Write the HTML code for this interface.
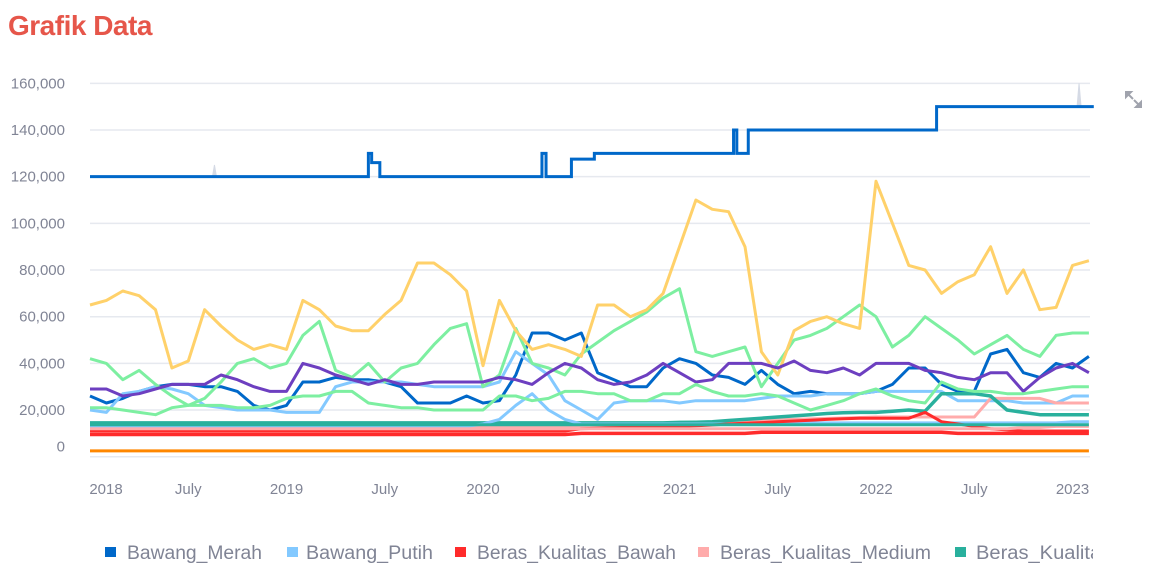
<!DOCTYPE html>
<html><head><meta charset="utf-8"><style>
body{margin:0;background:#fff;width:1153px;height:585px;overflow:hidden;font-family:"Liberation Sans",sans-serif}
#title{position:absolute;left:8px;top:10px;font-size:28px;font-weight:bold;color:#e6564a;letter-spacing:-0.5px}
</style></head><body>
<div id="title">Grafik Data</div>
<svg id="chart" width="1153" height="585" style="position:absolute;left:0;top:0"></svg>
<script>
const yTicks=[0,20000,40000,60000,80000,100000,120000,140000,160000];
const xTickMonths=[0,6,12,18,24,30,36,42,48,54,60];
const xTickLabels=["2018","July","2019","July","2020","July","2021","July","2022","July","2023"];
const seriesNames=["Bawang_Merah","Bawang_Putih","Beras_Kualitas_Bawah","Beras_Kualitas_Medium","Beras_Kualitas_Super"];
const bawangMerah=[26,23,25,28,30,31,31,30,30,28,22,20,22,32,32,34,33,33,32,30,23,23,23,26,23,24,35,53,53,50,53,36,33,30,30,38,42,40,35,34,31,37,31,27,28,27,27,27,28,31,38,38,31,28,28,44,46,36,34,40,38,43];
const bawangPutih=[20,19,27,28,30,29,27,22,21,20,20,20,19,19,19,30,32,32,32,32,31,30,30,30,30,32,45,40,35,24,20,16,23,24,24,24,23,24,24,24,24,25,26,26,26,27,27,27,28,28,28,28,28,24,24,24,24,23,23,23,26,26];
const berasBawah=[9.5,9.5,9.5,9.5,9.5,9.5,9.5,9.5,9.5,9.5,9.5,9.5,9.5,9.5,9.5,9.5,9.5,9.5,9.5,9.5,9.5,9.5,9.5,9.5,9.5,9.5,9.5,9.5,9.5,9.5,10,10,10,10,10,10,10,10,10,10,10,10.5,10.5,10.5,10.5,10.5,10.5,10.5,10.5,10.5,10.5,10.5,10.5,10,10,10,10,10,10,10,10,10];
const berasMedium=[13,13,13,13,13,13,13,13,13,13,13,13,13,13,13,13,13,13,13,13,13,13,13,13,13,13,13,13,13,13,13,13.2,13.4,13.6,13.8,14,14,14.3,14.6,15,15.3,15.6,16,16,16.2,16.4,16.6,16.8,17,17,17,17,17,17,17,25,25,25,25,23,23,23];
const berasSuper=[14.5,14.5,14.5,14.5,14.5,14.5,14.5,14.5,14.5,14.5,14.5,14.5,14.5,14.5,14.5,14.5,14.5,14.5,14.5,14.5,14.5,14.5,14.5,14.5,14.5,14.5,14.5,14.5,14.5,14.5,14.5,14.5,14.5,14.5,14.5,14.5,14.7,14.8,15,15.5,16,16.5,17,17.5,18,18.5,18.8,19,19,19.5,20,19.5,27,27,27,26,20,19,18,18,18,18];
const greenSeries=[42,40,33,37,31,26,22,25,32,40,42,38,40,52,58,37,34,40,32,38,40,48,55,57,30,35,55,40,38,35,44,49,54,58,62,68,72,45,43,45,47,30,40,50,52,55,60,65,60,47,52,60,55,50,44,48,52,46,43,52,53,53];
const orangeSeries=new Array(62).fill(2.5);
const yellowSeries=[65,67,71,69,63,38,41,63,56,50,46,48,46,67,63,56,54,54,61,67,83,83,78,71,39,67,54,46,48,46,43,65,65,60,63,70,90,110,106,105,90,45,35,54,58,60,57,55,118,100,82,80,70,75,78,90,70,80,63,64,82,84];
const purpleSeries=[29,29,26,27,29,31,31,31,35,33,30,28,28,40,38,35,33,31,33,31,31,32,32,32,32,34,33,31,36,40,38,33,31,32,35,40,36,32,33,40,40,40,38,41,37,36,38,35,40,40,40,37,36,34,33,36,36,28,34,38,40,36];
const lightBlue2=[13,13,13,13,13,13,13,13,13,13,13,13,13,13,13,13,13,13,13,13,13,13,13,13,14,16,22,27,20,16,14,14,14,14,14,14,14,14,14,14,14,14.5,14.5,14.5,14.5,14.5,14.5,14.5,14.5,14.5,14.5,14.5,14.5,14.5,14.5,14.5,14.5,14.5,14.5,14.5,15,15];
const red2=[11,11,11,11,11,11,11,11,11,11,11,11,11,11,11,11,11,11,11,11,11,11,11,11,11,11,11,11,11,11,12,12.2,12.4,12.6,12.8,13,13,13.3,13.6,14,14.3,14.6,15,15.3,15.6,16,16.3,16.5,16.5,16.5,16.5,19,15,14,13,12,11.5,11,11,11,11,11];
const pink2=[12,12,12,12,12,12,12,12,12,12,12,12,12,12,12,12,12,12,12,12,12,12,12,12,12,12,12,12,12,12,12,12,12,12,12,12,12,12,12,12,12,12,12,12,12,12,12,12,12,12,12,12,12,12,12,12,12,12.5,12.5,13,13,13];
const teal2=new Array(62).fill(13.7);
const lightGreen2=[21,21,20,19,18,21,22,22,22,21,21,22,25,26,26,28,28,23,22,21,21,20,20,20,20,26,26,24,25,28,28,27,27,24,24,27,27,31,28,26,26,27,26,23,20,22,24,27,29,26,24,23,32,29,28,28,27,27,28,29,30,30];
const topStepMonths=[0,17.0,17.2,17.7,27.6,27.85,29.4,30.8,39.3,39.5,40.2,51.7,61.3];
const topStepValues=[120,130,126,120,130,120,127.5,130,140,130,140,150,150];
const graySpikeMonths=[7.6,60.4];
const graySpikeValues=[125,160];

const NS="http://www.w3.org/2000/svg";
const svg=document.getElementById('chart');
const X0=90,X1=1090,MPX=16.375,Y0=456.7,PXV=46.67/20000;
function xS(m){return X0+m*MPX;}
function yS(v){return Y0-v*PXV;}
function mk(t,a,p){const e=document.createElementNS(NS,t);for(const k in a)e.setAttribute(k,a[k]);(p||svg).appendChild(e);return e;}

for(let i=0;i<yTicks.length;i++){
  const v=yTicks[i],y=yS(v);
  const g=mk('line',{x1:X0,x2:X1,y1:y,y2:y,stroke:'#e6e9ef','stroke-width':1.5});
  
  
  const t=mk('text',{x:65,y:(v===0?y-10:y)+5,'text-anchor':'end','font-size':15,fill:'#808495'});
  t.textContent=v.toLocaleString('en-US');
  
  
}
for(let i=0;i<xTickMonths.length;i++){
  const t=mk('text',{x:i===0?106:xS(xTickMonths[i]),y:494,'text-anchor':'middle','font-size':15,fill:'#808495'});
  t.textContent=xTickLabels[i];
  
  
}
function drawLine(arr,color,name,w){
  let d='';
  for(let i=0;i<arr.length;i++){d+=(i?'L':'M')+xS(Math.min(i,61.1)).toFixed(1)+','+yS(arr[i]*1000).toFixed(1);}
  const p=mk('path',{d:d,fill:'none',stroke:color,'stroke-width':w||3,'stroke-linejoin':'round'});
  
  
}
drawLine(bawangMerah,'#0068c9','line-bawang-merah');
drawLine(bawangPutih,'#83c9ff','line-bawang-putih');
drawLine(berasBawah,'#ff2b2b','line-beras-kualitas-bawah',3.5);
drawLine(berasMedium,'#ffabab','line-beras-kualitas-medium');
drawLine(berasSuper,'#29b09d','line-beras-kualitas-super',3.5);
drawLine(greenSeries,'#7defa1','line-series-6');
drawLine(orangeSeries,'#ff8700','line-series-7');
drawLine(yellowSeries,'#ffd16a','line-series-8');
drawLine(purpleSeries,'#6d3fc0','line-series-9');
for(let i=0;i<graySpikeMonths.length;i++){
  const m=graySpikeMonths[i];
  let base=topStepValues[0];
  for(let j=0;j<topStepMonths.length;j++)if(topStepMonths[j]<=m)base=topStepValues[j];
  const p=mk('path',{d:'M'+(xS(m)-2)+','+yS(base*1000)+'L'+xS(m)+','+yS(graySpikeValues[i]*1000)+'L'+(xS(m)+2)+','+yS(base*1000)+'Z',fill:'#d5dae5',stroke:'#d5dae5','stroke-width':1});
  
  
}
(function(){
  let d='';
  for(let i=0;i<topStepMonths.length;i++){
    const x=xS(topStepMonths[i]),y=yS(topStepValues[i]*1000);
    if(i===0)d+='M'+x+','+y;else d+='H'+x+'V'+y;
  }
  d+='H'+xS(61.1);
  const p=mk('path',{d:d,fill:'none',stroke:'#0068c9','stroke-width':3});
  
  
})();
drawLine(lightBlue2,'#83c9ff','line-series-12');
drawLine(red2,'#ff2b2b','line-series-13');
drawLine(pink2,'#ffabab','line-series-14');
drawLine(teal2,'#29b09d','line-series-15');
drawLine(lightGreen2,'#7defa1','line-series-16');

const legendColors=['#0068c9','#83c9ff','#ff2b2b','#ffabab','#29b09d'];
const legSq=[105,287,455,698,955],legTx=[127,306,477,720,976],legW=[135,127,199,211,200];
mk('clipPath',{id:'lc'});
mk('rect',{x:0,y:530,width:1093,height:50},document.getElementById('lc'));
const lg=mk('g',{'clip-path':'url(#lc)'});


for(let i=0;i<seriesNames.length;i++){
  const r=mk('rect',{x:legSq[i],y:547,width:11,height:10,fill:legendColors[i]},lg);
  
  
  const t=mk('text',{x:legTx[i],y:559,'font-size':19,fill:'#808495'},lg);
  t.setAttribute('textLength',legW[i]);
  t.setAttribute('lengthAdjust','spacingAndGlyphs');
  t.textContent=seriesNames[i];
  
  
}
const ic=mk('g',{stroke:'#a0a3ad','stroke-width':2,fill:'#a0a3ad'});


mk('path',{d:'M1126,92 L1133,99 M1126,92 L1131,92 L1126,97 Z'},ic);
mk('path',{d:'M1141,107 L1134,100 M1141,107 L1136,107 L1141,102 Z'},ic);
</script>
</body></html>
